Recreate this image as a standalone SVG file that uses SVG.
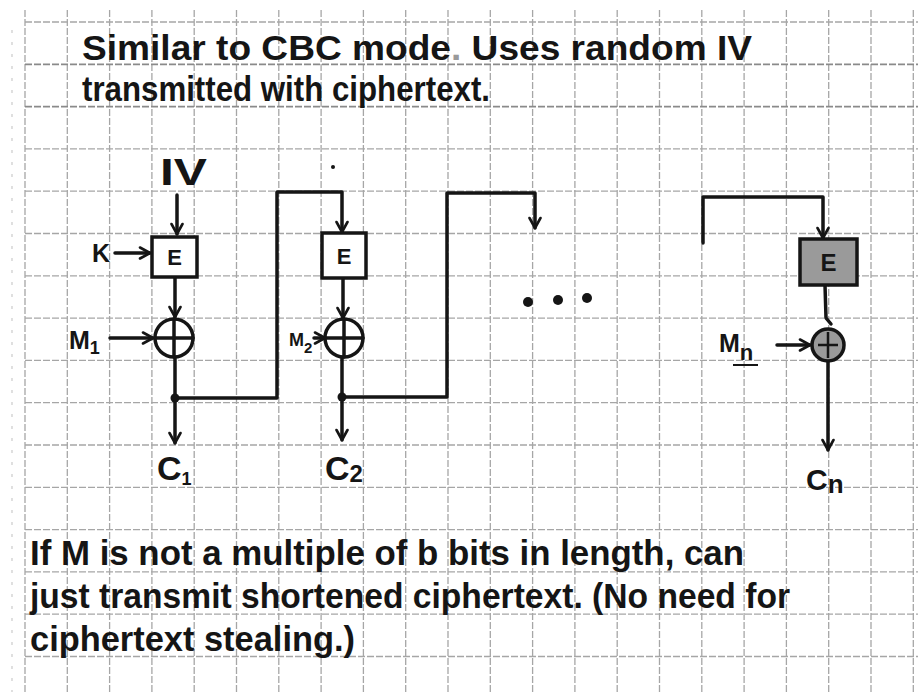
<svg xmlns="http://www.w3.org/2000/svg" width="918" height="692" viewBox="0 0 918 692">
<style>
  .grid line { stroke: #a6a6a6; stroke-width: 1.3; stroke-dasharray: 7 2; }
  .grid line.dark { stroke: #8a8a8a; stroke-width: 1.8; }
  .hand { font-family: "Liberation Sans", "DejaVu Sans", sans-serif; fill: #151515; font-weight: bold; }
  .note { font-size: 35px; }
  .sub { font-size: 18px; }
  .wire { fill: none; stroke: #151515; stroke-width: 3.5; stroke-linejoin: round; stroke-linecap: round; }
  .box { fill: #ffffff; stroke: #151515; stroke-width: 3.5; }
  .box.dark { fill: #9a9a9a; }
  .xor { fill: #ffffff; stroke: #151515; stroke-width: 3.5; }
  .xor.dark { fill: #9a9a9a; }
  .dot { fill: #151515; }
  .faint { fill: #9a9a9a; }
</style>
<defs>
  <marker id="arr" viewBox="0 0 14 14" refX="12" refY="7" markerWidth="14" markerHeight="14" markerUnits="userSpaceOnUse" orient="auto">
    <path d="M2,1.5 L12,7 L2,12.5" fill="none" stroke="#151515" stroke-width="2.6" stroke-linecap="round" stroke-linejoin="round"/>
  </marker>
</defs>
<rect width="918" height="692" fill="#ffffff"/>

<g class="grid">
  <line x1="12" y1="30" x2="12" y2="692" style="stroke:#cfcfcf;stroke-dasharray:3 9"/>
  <line x1="25" y1="10" x2="25" y2="692"/>
  <line x1="67.3" y1="10" x2="67.3" y2="692"/>
  <line x1="109.6" y1="10" x2="109.6" y2="692"/>
  <line x1="151.9" y1="10" x2="151.9" y2="692"/>
  <line x1="194.2" y1="10" x2="194.2" y2="692"/>
  <line x1="236.5" y1="10" x2="236.5" y2="692"/>
  <line x1="278.8" y1="10" x2="278.8" y2="692"/>
  <line x1="321.1" y1="10" x2="321.1" y2="692"/>
  <line x1="363.4" y1="10" x2="363.4" y2="692"/>
  <line x1="405.7" y1="10" x2="405.7" y2="692"/>
  <line x1="448" y1="10" x2="448" y2="692"/>
  <line x1="490.3" y1="10" x2="490.3" y2="692"/>
  <line x1="532.6" y1="10" x2="532.6" y2="692"/>
  <line x1="574.9" y1="10" x2="574.9" y2="692"/>
  <line x1="617.2" y1="10" x2="617.2" y2="692"/>
  <line x1="659.5" y1="10" x2="659.5" y2="692"/>
  <line x1="701.8" y1="10" x2="701.8" y2="692"/>
  <line x1="744.1" y1="10" x2="744.1" y2="692"/>
  <line x1="786.4" y1="10" x2="786.4" y2="692"/>
  <line x1="828.7" y1="10" x2="828.7" y2="692"/>
  <line x1="871" y1="10" x2="871" y2="692"/>
  <line x1="913.3" y1="10" x2="913.3" y2="692"/>
  <line x1="25" y1="22" x2="918" y2="22"/>
  <line class="dark" x1="25" y1="64.3" x2="918" y2="64.3"/>
  <line class="dark" x1="25" y1="106.6" x2="918" y2="106.6"/>
  <line x1="25" y1="148.9" x2="918" y2="148.9"/>
  <line x1="25" y1="191.2" x2="918" y2="191.2"/>
  <line x1="25" y1="233.5" x2="918" y2="233.5"/>
  <line x1="25" y1="275.8" x2="918" y2="275.8"/>
  <line x1="25" y1="318.1" x2="918" y2="318.1"/>
  <line x1="25" y1="360.4" x2="918" y2="360.4"/>
  <line x1="25" y1="402.7" x2="918" y2="402.7"/>
  <line x1="25" y1="445" x2="918" y2="445"/>
  <line x1="25" y1="487.3" x2="918" y2="487.3"/>
  <line x1="25" y1="529.6" x2="918" y2="529.6"/>
  <line x1="25" y1="571.9" x2="918" y2="571.9"/>
  <line x1="25" y1="614.2" x2="918" y2="614.2"/>
  <line x1="25" y1="656.5" x2="918" y2="656.5"/>
</g>

<g id="header">
  <text class="hand note" x="82" y="60" textLength="670" lengthAdjust="spacingAndGlyphs">Similar to CBC mode<tspan class="faint">.</tspan> Uses random IV</text>
  <text class="hand note" x="82" y="101" textLength="408" lengthAdjust="spacingAndGlyphs">transmitted with ciphertext.</text>
</g>

<g id="connectors">
  <path class="wire" d="M177,195 L177,234" marker-end="url(#arr)"/>
  <path class="wire" d="M115,253 L150,253" marker-end="url(#arr)"/>
  <path class="wire" d="M175,277 L175,317" marker-end="url(#arr)"/>
  <path class="wire" d="M110,338 L153,338" marker-end="url(#arr)"/>
  <path class="wire" d="M175,358 L175,443" marker-end="url(#arr)"/>
  <path class="wire" d="M175,398 L277,398 L277,192 L342,192 L342,232" marker-end="url(#arr)"/>
  <path class="wire" d="M343,278 L343,318" marker-end="url(#arr)"/>
  <path class="wire" d="M314,338 L325,338" marker-end="url(#arr)"/>
  <path class="wire" d="M342,357 L342,440" marker-end="url(#arr)"/>
  <path class="wire" d="M342,397 L447,397 L447,193 L535,193 L535,228" marker-end="url(#arr)"/>
  <path class="wire" d="M703,243 L703,197 L823,197 L823,238" marker-end="url(#arr)"/>
  <path class="wire" d="M825,285 L826,318 L831,324"/>
  <path class="wire" d="M777,345 L810,345" marker-end="url(#arr)"/>
  <path class="wire" d="M828,362 L828,450" marker-end="url(#arr)"/>
  <circle class="dot" cx="175" cy="398" r="4.5"/>
  <circle class="dot" cx="342" cy="397" r="4.5"/>
</g>

<g id="iv">
  <text class="hand" x="160" y="185" font-size="37" textLength="47" lengthAdjust="spacingAndGlyphs">IV</text>
</g>
<g id="k">
  <text class="hand" x="92" y="262" font-size="25">K</text>
</g>
<g id="e1">
  <rect class="box" x="152" y="237" width="45" height="40"/>
  <text class="hand" x="174.5" y="265" font-size="22" text-anchor="middle">E</text>
</g>
<g id="xor1">
  <circle class="xor" cx="174" cy="338" r="19"/>
  <path class="wire" d="M174,319 L174,357 M155,338 L193,338"/>
</g>
<g id="m1">
  <text class="hand" x="69" y="349" font-size="25">M<tspan class="sub" dy="5">1</tspan></text>
</g>
<g id="c1">
  <text class="hand" x="157" y="480" font-size="34">C<tspan class="sub" font-size="20" dy="5">1</tspan></text>
</g>

<g id="stray">
  <circle class="dot" cx="333" cy="167" r="2"/>
</g>

<g id="e2">
  <rect class="box" x="322" y="233" width="44" height="45"/>
  <text class="hand" x="344" y="264" font-size="22" text-anchor="middle">E</text>
</g>
<g id="xor2">
  <circle class="xor" cx="344" cy="338" r="19"/>
  <path class="wire" d="M344,319 L344,357 M325,338 L363,338"/>
</g>
<g id="m2">
  <text class="hand" x="289" y="346" font-size="18">M<tspan font-size="15" dy="7">2</tspan></text>
</g>
<g id="c2">
  <text class="hand" x="325" y="480" font-size="34">C<tspan font-size="24" dy="2">2</tspan></text>
</g>

<g id="ellipsis">
  <circle class="dot" cx="528" cy="302" r="5"/>
  <circle class="dot" cx="558" cy="300" r="5"/>
  <circle class="dot" cx="587" cy="298" r="5"/>
</g>

<g id="en">
  <rect class="box dark" x="800" y="239" width="57" height="46"/>
  <text class="hand" x="828.5" y="271" font-size="24" text-anchor="middle">E</text>
</g>
<g id="xorn">
  <circle class="xor dark" cx="828" cy="345" r="16"/>
  <path d="M828,332 L828,358 M818,345 L838,345" stroke="#151515" stroke-width="2.5"/>
</g>
<g id="mn">
  <text class="hand" x="719" y="352" font-size="25">M<tspan font-size="22" dy="8">n</tspan></text>
  <line x1="733" y1="365" x2="758" y2="365" stroke="#151515" stroke-width="2"/>
</g>
<g id="cn">
  <text class="hand" x="806" y="490" font-size="30">C<tspan font-size="26" dy="3">n</tspan></text>
</g>

<g id="footer">
  <text class="hand note" x="30" y="565" textLength="714" lengthAdjust="spacingAndGlyphs">If M is not a multiple of b bits in length, can</text>
  <text class="hand note" x="30" y="608" textLength="760" lengthAdjust="spacingAndGlyphs">just transmit shortened ciphertext. (No need for</text>
  <text class="hand note" x="30" y="651" textLength="325" lengthAdjust="spacingAndGlyphs">ciphertext stealing.)</text>
</g>
</svg>
